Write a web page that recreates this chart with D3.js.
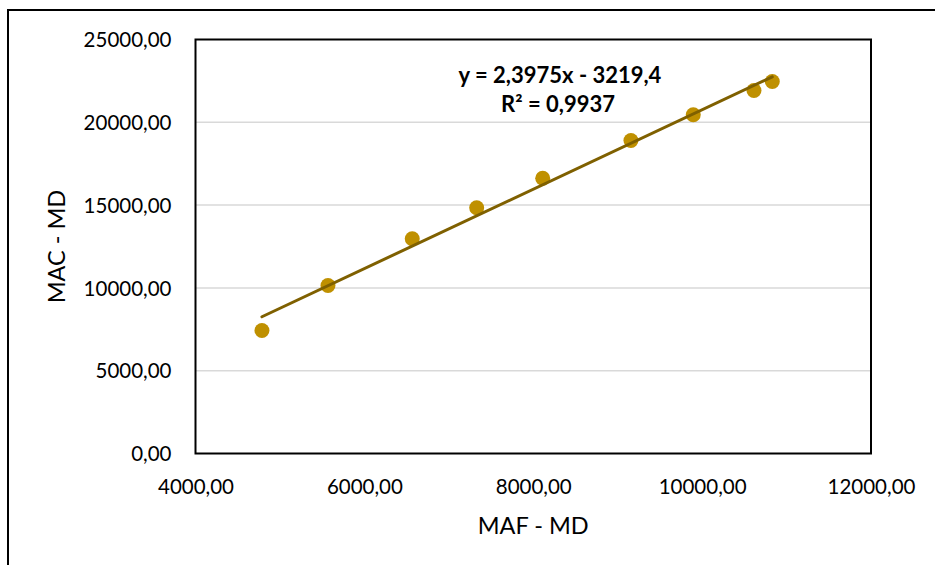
<!DOCTYPE html>
<html>
<head>
<meta charset="utf-8">
<script src="https://cdn.jsdelivr.net/npm/d3@7"></script>
<style>
  html, body { margin: 0; padding: 0; background: #ffffff; }
  svg { display: block; }
  text { font-family: "Lato", "Open Sans", sans-serif; fill: #000; }
</style>
</head>
<body>
<svg id="chart" width="935" height="565"></svg>
<script>
// MAF vs MAC (MD) observations
const mafValues = [4787, 5569, 6567, 7330, 8112, 9157, 9895, 10614, 10831];
const macValues = [7428, 10145, 12965, 14837, 16624, 18901, 20452, 21920, 22464];

// Linear trend fitted to the points
const trendSlope = 2.3975;
const trendIntercept = -3219.4;
const trendR2 = 0.9937;

// Axis ticks
const xTicks = [4000, 6000, 8000, 10000, 12000];
const yTicks = [0, 5000, 10000, 15000, 20000, 25000];

const locale = d3.formatLocale({ decimal: ",", thousands: "", grouping: [3], currency: ["", ""] });
const fmt2 = locale.format(".2f");
const fmtSlope = locale.format(".4f");
const fmtInt = locale.format(".1f");
const fmtR2 = locale.format(".4f");

const svg = d3.select("#chart");
const W = 935, H = 565;

// Chart frame
svg.append("rect")
  .attr("x", 8).attr("y", 10)
  .attr("width", W + 10).attr("height", H + 10)
  .attr("fill", "#fff")
  .attr("stroke", "#000").attr("stroke-width", 2);

const plot = { left: 195.5, top: 39.5, right: 871, bottom: 453.5 };

const x = d3.scaleLinear().domain([4000, 12000]).range([plot.left, plot.right]);
const y = d3.scaleLinear().domain([0, 25000]).range([plot.bottom, plot.top]);

// Horizontal gridlines
svg.append("g")
  .selectAll("line")
  .data(yTicks.filter(t => t > 0 && t < 25000))
  .join("line")
  .attr("x1", plot.left).attr("x2", plot.right)
  .attr("y1", d => y(d)).attr("y2", d => y(d))
  .attr("stroke", "#d9d9d9").attr("stroke-width", 1.5);

// Y axis labels
const yAxis = d3.axisLeft(y).tickValues(yTicks).tickFormat(fmt2).tickSize(0).tickPadding(24);
const yg = svg.append("g").attr("transform", `translate(${plot.left},0)`).call(yAxis);
yg.select(".domain").remove();
yg.selectAll("text")
  .style("font-family", "Lato, 'Open Sans', sans-serif")
  .style("font-size", "20.5px")
  .attr("dy", "0.35em");

// X axis labels
const xAxis = d3.axisBottom(x).tickValues(xTicks).tickFormat(fmt2).tickSize(0).tickPadding(23);
const xg = svg.append("g").attr("transform", `translate(0,${plot.bottom})`).call(xAxis);
xg.select(".domain").remove();
xg.selectAll("text")
  .style("font-family", "Lato, 'Open Sans', sans-serif")
  .style("font-size", "20.5px")
  .attr("dy", "0.35em")
  .attr("y", 33);

// Plot area border
svg.append("rect")
  .attr("x", plot.left).attr("y", plot.top)
  .attr("width", plot.right - plot.left).attr("height", plot.bottom - plot.top)
  .attr("fill", "none")
  .attr("stroke", "#000").attr("stroke-width", 2);

// Scatter points
const pts = mafValues.map((v, i) => ({ maf: v, mac: macValues[i] }));
svg.append("g")
  .selectAll("circle")
  .data(pts)
  .join("circle")
  .attr("cx", d => x(d.maf))
  .attr("cy", d => y(d.mac))
  .attr("r", 7.5)
  .attr("fill", "#bf9000");

// Trend line across the observed range
const xMin = d3.min(mafValues), xMax = d3.max(mafValues);
const trend = [xMin, xMax].map(v => ({ maf: v, mac: trendSlope * v + trendIntercept }));
svg.append("path")
  .datum(trend)
  .attr("d", d3.line().x(d => x(d.maf)).y(d => y(d.mac)))
  .attr("fill", "none")
  .attr("stroke", "#7f6000")
  .attr("stroke-width", 3)
  .attr("stroke-linecap", "round");

// Equation label
const eq = svg.append("g").attr("font-weight", "bold").attr("font-size", 22).attr("text-anchor", "middle");
eq.append("text")
  .attr("x", 560).attr("y", 75).attr("dy", "0.35em")
  .text(`y = ${fmtSlope(trendSlope)}x - ${fmtInt(Math.abs(trendIntercept))}`);
eq.append("text")
  .attr("x", 558).attr("y", 104).attr("dy", "0.35em")
  .text(`R² = ${fmtR2(trendR2)}`);

// Axis titles
svg.append("text")
  .attr("x", (plot.left + plot.right) / 2).attr("y", 526).attr("dy", "0.35em")
  .attr("text-anchor", "middle").attr("font-size", 23.5)
  .text("MAF - MD");
svg.append("text")
  .attr("transform", `translate(57,${(plot.top + plot.bottom) / 2}) rotate(-90)`)
  .attr("dy", "0.35em")
  .attr("text-anchor", "middle").attr("font-size", 23.5)
  .text("MAC - MD");
</script>
</body>
</html>
